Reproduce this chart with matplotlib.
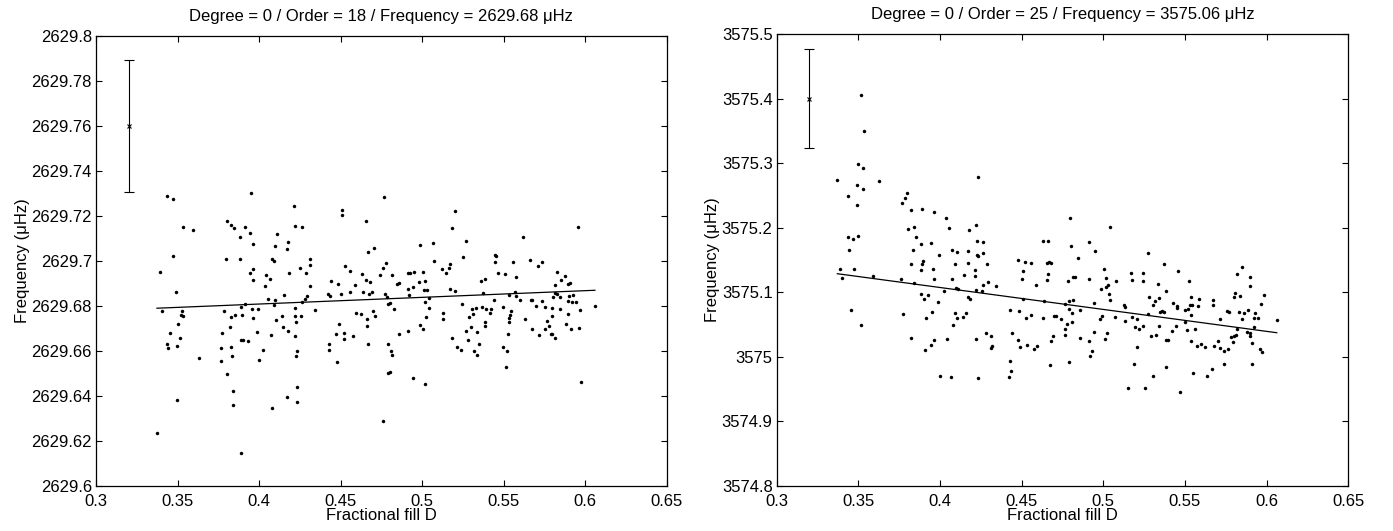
import matplotlib.pyplot as plt
import numpy as np
from matplotlib.ticker import FuncFormatter

plt.rcParams['font.family'] = ['Liberation Sans', 'DejaVu Sans']
plt.rcParams['font.size'] = 12

# ---- left panel: degree 0 / order 18 ----
left_fill = [
    0.3437, 0.3470, 0.3949, 0.3532, 0.3593, 0.3806, 0.3828, 0.3844, 0.3912, 0.3945,
    0.3883, 0.3963, 0.3472, 0.3797, 0.3883, 0.3393, 0.3965, 0.3942, 0.4045, 0.3963,
    0.4039, 0.3491, 0.4055, 0.3405, 0.3527, 0.3916, 0.3887, 0.3959, 0.3996, 0.3785,
    0.3519, 0.3532, 0.3826, 0.3853, 0.3895, 0.3963, 0.3501, 0.3820, 0.3456, 0.3987,
    0.3775, 0.3517, 0.3891, 0.3902, 0.3930, 0.3437, 0.3495, 0.3442, 0.3826, 0.3765,
    0.4026, 0.3632, 0.3767, 0.3836, 0.4002, 0.3806, 0.3842, 0.3497, 0.3838, 0.3374,
    0.3891,
    0.4764, 0.4214, 0.4507, 0.4507, 0.4656, 0.4219, 0.4261, 0.4110, 0.4178, 0.5069,
    0.4096, 0.4987, 0.4169, 0.4705, 0.4666, 0.4077, 0.4094, 0.4311, 0.4311, 0.4253,
    0.4529, 0.4781, 0.5073, 0.4186, 0.4286, 0.4556, 0.4629, 0.4760, 0.4067, 0.4740,
    0.4816, 0.4912, 0.4928, 0.4948, 0.5006, 0.5124, 0.4439, 0.4654, 0.4679, 0.4484,
    0.4591, 0.4315, 0.4846, 0.4856, 0.4981, 0.5020, 0.4914, 0.4942, 0.4155, 0.4423,
    0.4433, 0.4503, 0.4558, 0.4638, 0.4676, 0.4691, 0.4773, 0.4787, 0.4918, 0.5014,
    0.5032, 0.4292, 0.4284, 0.4100, 0.4261, 0.4090, 0.5042, 0.4805, 0.4791, 0.5018,
    0.4221, 0.4345, 0.4830, 0.5040, 0.4697, 0.4593, 0.4627, 0.4709, 0.4143, 0.4221,
    0.4259, 0.4106, 0.4225, 0.4660, 0.5024, 0.5130, 0.5130, 0.4488, 0.4660, 0.4145,
    0.4176, 0.4985, 0.5004, 0.4075, 0.4219, 0.4474, 0.4521, 0.4576, 0.4521, 0.4856,
    0.4912, 0.4427, 0.4670, 0.4789, 0.4427, 0.4233, 0.4225, 0.4809, 0.4816, 0.4476,
    0.4791, 0.4803, 0.4944, 0.5016, 0.4231, 0.4169, 0.4231, 0.4077, 0.4760,
    0.5202, 0.5185, 0.5956, 0.5271, 0.5617, 0.5253, 0.5447, 0.5451, 0.5447, 0.5555,
    0.5664, 0.5733, 0.5709, 0.5171, 0.5163, 0.5149, 0.5465, 0.5508, 0.5578, 0.5827,
    0.5878, 0.5854, 0.5361, 0.5384, 0.5895, 0.5905, 0.5817, 0.5171, 0.5202, 0.5371,
    0.5535, 0.5568, 0.5578, 0.5817, 0.5829, 0.5805, 0.5844, 0.5903, 0.5928, 0.5243,
    0.5441, 0.5598, 0.5668, 0.5674, 0.5737, 0.5895, 0.5919, 0.5944, 0.6060, 0.5304,
    0.5333, 0.5367, 0.5392, 0.5425, 0.5496, 0.5414, 0.5312, 0.5543, 0.5537, 0.5696,
    0.5754, 0.5799, 0.5848, 0.5966, 0.5893, 0.5288, 0.5533, 0.5535, 0.5384, 0.5384,
    0.5300, 0.5629, 0.5795, 0.5768, 0.5776, 0.5756, 0.5883, 0.5960, 0.5915, 0.5674,
    0.5269, 0.5339, 0.5529, 0.5715, 0.5789, 0.5797, 0.5813, 0.5185, 0.5279, 0.5347,
    0.5214, 0.5237, 0.5494, 0.5320, 0.5335, 0.5521, 0.5515, 0.5977,
]
left_freq = [
    2629.7290, 2629.7274, 2629.7301, 2629.7150, 2629.7138, 2629.7178, 2629.7160, 2629.7145, 2629.7151, 2629.7126,
    2629.7108, 2629.7074, 2629.7021, 2629.7010, 2629.7007, 2629.6951, 2629.6964, 2629.6947, 2629.6939, 2629.6917,
    2629.6889, 2629.6864, 2629.6833, 2629.6778, 2629.6779, 2629.6810, 2629.6797, 2629.6785, 2629.6787, 2629.6776,
    2629.6760, 2629.6754, 2629.6753, 2629.6760, 2629.6760, 2629.6745, 2629.6720, 2629.6705, 2629.6682, 2629.6683,
    2629.6679, 2629.6656, 2629.6649, 2629.6650, 2629.6643, 2629.6631, 2629.6622, 2629.6612, 2629.6618, 2629.6612,
    2629.6604, 2629.6569, 2629.6557, 2629.6576, 2629.6561, 2629.6496, 2629.6421, 2629.6381, 2629.6361, 2629.6237,
    2629.6145,
    2629.7283, 2629.7243, 2629.7227, 2629.7206, 2629.7179, 2629.7157, 2629.7153, 2629.7119, 2629.7086, 2629.7081,
    2629.7068, 2629.7071, 2629.7052, 2629.7059, 2629.7041, 2629.7007, 2629.7001, 2629.7010, 2629.6981, 2629.6967,
    2629.6979, 2629.6990, 2629.7000, 2629.6948, 2629.6945, 2629.6954, 2629.6944, 2629.6970, 2629.6919, 2629.6938,
    2629.6936, 2629.6945, 2629.6945, 2629.6953, 2629.6950, 2629.6963, 2629.6910, 2629.6914, 2629.6905, 2629.6896,
    2629.6893, 2629.6887, 2629.6898, 2629.6901, 2629.6905, 2629.6910, 2629.6877, 2629.6883, 2629.6849, 2629.6853,
    2629.6846, 2629.6855, 2629.6861, 2629.6864, 2629.6852, 2629.6861, 2629.6852, 2629.6840, 2629.6847, 2629.6871,
    2629.6873, 2629.6844, 2629.6831, 2629.6828, 2629.6816, 2629.6806, 2629.6834, 2629.6813, 2629.6807, 2629.6816,
    2629.6790, 2629.6782, 2629.6787, 2629.6791, 2629.6778, 2629.6767, 2629.6763, 2629.6757, 2629.6757, 2629.6754,
    2629.6756, 2629.6736, 2629.6730, 2629.6742, 2629.6750, 2629.6770, 2629.6742, 2629.6721, 2629.6713, 2629.6705,
    2629.6690, 2629.6717, 2629.6696, 2629.6673, 2629.6665, 2629.6676, 2629.6679, 2629.6668, 2629.6653, 2629.6674,
    2629.6687, 2629.6631, 2629.6630, 2629.6633, 2629.6603, 2629.6601, 2629.6576, 2629.6599, 2629.6584, 2629.6550,
    2629.6501, 2629.6505, 2629.6480, 2629.6453, 2629.6439, 2629.6394, 2629.6373, 2629.6345, 2629.6290,
    2629.7224, 2629.7147, 2629.7150, 2629.7087, 2629.7105, 2629.7016, 2629.7027, 2629.7024, 2629.6997, 2629.6996,
    2629.7004, 2629.6994, 2629.6979, 2629.6985, 2629.6967, 2629.6945, 2629.6948, 2629.6944, 2629.6929, 2629.6950,
    2629.6932, 2629.6917, 2629.6911, 2629.6920, 2629.6896, 2629.6901, 2629.6892, 2629.6874, 2629.6865, 2629.6856,
    2629.6849, 2629.6861, 2629.6846, 2629.6858, 2629.6852, 2629.6839, 2629.6841, 2629.6843, 2629.6849, 2629.6807,
    2629.6828, 2629.6828, 2629.6827, 2629.6825, 2629.6824, 2629.6821, 2629.6818, 2629.6819, 2629.6801, 2629.6785,
    2629.6791, 2629.6794, 2629.6785, 2629.6787, 2629.6797, 2629.6770, 2629.6764, 2629.6779, 2629.6761, 2629.6801,
    2629.6796, 2629.6793, 2629.6787, 2629.6784, 2629.6766, 2629.6750, 2629.6745, 2629.6727, 2629.6730, 2629.6713,
    2629.6705, 2629.6741, 2629.6756, 2629.6733, 2629.6710, 2629.6699, 2629.6721, 2629.6701, 2629.6696, 2629.6699,
    2629.6690, 2629.6686, 2629.6674, 2629.6673, 2629.6677, 2629.6677, 2629.6656, 2629.6656, 2629.6650, 2629.6631,
    2629.6619, 2629.6604, 2629.6618, 2629.6599, 2629.6582, 2629.6599, 2629.6527, 2629.6461,
]
left_fit = [0.0297, 2629.669]          # slope, intercept of the drawn trend line
left_err = [0.32, 2629.76, 0.0295]     # x, y, half-height of the error bar
left_title = 'Degree = 0 / Order = 18 / Frequency = 2629.68 \u03bcHz'
left_yticks = [2629.6, 2629.62, 2629.64, 2629.66, 2629.68, 2629.7,
               2629.72, 2629.74, 2629.76, 2629.78, 2629.8]

# ---- right panel: degree 0 / order 25 ----
right_fill = [
    0.3514, 0.3533, 0.3498, 0.3526, 0.3371, 0.3628, 0.3492, 0.3528, 0.3437, 0.3490,
    0.3796, 0.3784, 0.3765, 0.3824, 0.3892, 0.3963, 0.4039, 0.4053, 0.3804, 0.3841,
    0.3851, 0.3437, 0.3469, 0.3496, 0.3441, 0.3882, 0.3945, 0.3835, 0.3996, 0.4073,
    0.4102, 0.3896, 0.3824, 0.3892, 0.3884, 0.3959, 0.4090, 0.3390, 0.3471, 0.3402,
    0.3592, 0.3761, 0.3963, 0.4076, 0.4145, 0.3839, 0.4024, 0.4096, 0.4108, 0.3886,
    0.3929, 0.3902, 0.3988, 0.3453, 0.3773, 0.3951, 0.4092, 0.4104, 0.4143, 0.3912,
    0.3518, 0.4078, 0.3820, 0.3963, 0.4043, 0.3943, 0.3910, 0.4002, 0.4067,
    0.4231, 0.4794, 0.4221, 0.4176, 0.5043, 0.4225, 0.4261, 0.4629, 0.4661, 0.4804,
    0.4915, 0.4169, 0.4227, 0.4235, 0.4261, 0.4949, 0.4845, 0.4476, 0.4521, 0.4559,
    0.4655, 0.4668, 0.4682, 0.4171, 0.4286, 0.4214, 0.4216, 0.4508, 0.4659, 0.5004,
    0.5168, 0.4504, 0.4655, 0.4784, 0.4817, 0.4829, 0.4915, 0.5019, 0.5027, 0.5019,
    0.5076, 0.5176, 0.4292, 0.4263, 0.4343, 0.4590, 0.4986, 0.5035, 0.5043, 0.4218,
    0.4255, 0.4174, 0.4184, 0.4508, 0.4637, 0.4790, 0.4817, 0.4768, 0.4945, 0.5125,
    0.5133, 0.4157, 0.4427, 0.4484, 0.4788, 0.4857, 0.4810, 0.4525, 0.4559, 0.4631,
    0.4698, 0.4708, 0.4741, 0.4776, 0.4806, 0.4990, 0.4982, 0.5074, 0.5133, 0.5174,
    0.5206, 0.5192, 0.5217, 0.4763, 0.4763, 0.4221, 0.4282, 0.4312, 0.4439, 0.4692,
    0.4680, 0.4857, 0.4943, 0.5021, 0.5008, 0.4316, 0.4312, 0.4476, 0.4490, 0.4531,
    0.4592, 0.4578, 0.4912, 0.4929, 0.4919, 0.5204, 0.4427, 0.4672, 0.4792, 0.5188,
    0.4433, 0.4423, 0.4231, 0.5149,
    0.5274, 0.5374, 0.5455, 0.5243, 0.5243, 0.5523, 0.5335, 0.5384, 0.5851, 0.5821,
    0.5896, 0.5898, 0.5804, 0.5798, 0.5835, 0.5982, 0.5282, 0.5315, 0.5339, 0.5302,
    0.5537, 0.5584, 0.5429, 0.5449, 0.5453, 0.5500, 0.5521, 0.5531, 0.5543, 0.5582,
    0.5672, 0.5670, 0.5349, 0.5361, 0.5370, 0.5274, 0.5537, 0.5760, 0.5770, 0.5831,
    0.5860, 0.5886, 0.5931, 0.5964, 0.5921, 0.5947, 0.5847, 0.5717, 0.6062, 0.5241,
    0.5341, 0.5445, 0.5498, 0.5511, 0.5560, 0.5419, 0.5819, 0.5925, 0.5882, 0.5898,
    0.5896, 0.5292, 0.5323, 0.5384, 0.5394, 0.5780, 0.5798, 0.5813, 0.5792, 0.5537,
    0.5702, 0.5572, 0.5600, 0.5621, 0.5678, 0.5713, 0.5741, 0.5762, 0.5909, 0.5960,
    0.5972, 0.5737, 0.5909, 0.5386, 0.5547, 0.5668, 0.5635, 0.5304, 0.5255, 0.5470,
]
right_freq = [
    3575.4055, 3575.3502, 3575.2980, 3575.2923, 3575.2732, 3575.2717, 3575.2660, 3575.2593, 3575.2495, 3575.2345,
    3575.2541, 3575.2464, 3575.2376, 3575.2267, 3575.2288, 3575.2242, 3575.2154, 3575.1999, 3575.1973, 3575.2014,
    3575.1849, 3575.1859, 3575.1828, 3575.1864, 3575.1648, 3575.1741, 3575.1756, 3575.1648, 3575.1570, 3575.1648,
    3575.1617, 3575.1482, 3575.1436, 3575.1431, 3575.1338, 3575.1358, 3575.1436, 3575.1364, 3575.1364, 3575.1219,
    3575.1255, 3575.1208, 3575.1198, 3575.1208, 3575.1271, 3575.1147, 3575.1017, 3575.1069, 3575.1043, 3575.0966,
    3575.0950, 3575.0888, 3575.0852, 3575.0718, 3575.0656, 3575.0697, 3575.0682, 3575.0599, 3575.0615, 3575.0599,
    3575.0485, 3575.0485, 3575.0294, 3575.0253, 3575.0268, 3575.0175, 3575.0098, 3574.9700, 3574.9685,
    3575.2784, 3575.2149, 3575.2035, 3575.1963, 3575.2014, 3575.1787, 3575.1771, 3575.1797, 3575.1797, 3575.1715,
    3575.1771, 3575.1642, 3575.1580, 3575.1560, 3575.1606, 3575.1642, 3575.1529, 3575.1493, 3575.1462, 3575.1446,
    3575.1446, 3575.1467, 3575.1446, 3575.1456, 3575.1431, 3575.1343, 3575.1245, 3575.1322, 3575.1281, 3575.1353,
    3575.1291, 3575.1198, 3575.1183, 3575.1167, 3575.1240, 3575.1234, 3575.1198, 3575.1214, 3575.1105, 3575.1085,
    3575.1167, 3575.1188, 3575.1152, 3575.1110, 3575.1100, 3575.1110, 3575.1043, 3575.0971, 3575.0883, 3575.1033,
    3575.1012, 3575.0919, 3575.0888, 3575.0893, 3575.0857, 3575.0857, 3575.0878, 3575.0811, 3575.0837, 3575.0800,
    3575.0775, 3575.0677, 3575.0718, 3575.0703, 3575.0744, 3575.0728, 3575.0682, 3575.0594, 3575.0640, 3575.0594,
    3575.0625, 3575.0635, 3575.0578, 3575.0511, 3575.0532, 3575.0625, 3575.0583, 3575.0614, 3575.0552, 3575.0620,
    3575.0578, 3575.0454, 3575.0434, 3575.0423, 3575.0341, 3575.0279, 3575.0366, 3575.0325, 3575.0361, 3575.0320,
    3575.0248, 3575.0294, 3575.0382, 3575.0361, 3575.0279, 3575.0160, 3575.0129, 3575.0253, 3575.0145, 3575.0181,
    3575.0170, 3575.0119, 3575.0237, 3575.0088, 3575.0005, 3575.0145, 3574.9928, 3574.9866, 3574.9912, 3574.9881,
    3574.9783, 3574.9685, 3574.9664, 3574.9509,
    3575.1611, 3575.1431, 3575.1322, 3575.1291, 3575.1172, 3575.1172, 3575.1126, 3575.1023, 3575.1389, 3575.1276,
    3575.1240, 3575.1095, 3575.0981, 3575.0919, 3575.0945, 3575.0950, 3575.0924, 3575.0862, 3575.0904, 3575.0800,
    3575.0919, 3575.0899, 3575.0826, 3575.0785, 3575.0759, 3575.0718, 3575.0733, 3575.0795, 3575.0795, 3575.0785,
    3575.0873, 3575.0795, 3575.0697, 3575.0713, 3575.0692, 3575.0661, 3575.0640, 3575.0713, 3575.0687, 3575.0687,
    3575.0671, 3575.0723, 3575.0682, 3575.0811, 3575.0604, 3575.0594, 3575.0589, 3575.0589, 3575.0563, 3575.0480,
    3575.0475, 3575.0470, 3575.0532, 3575.0418, 3575.0423, 3575.0397, 3575.0434, 3575.0465, 3575.0382, 3575.0361,
    3575.0315, 3575.0320, 3575.0330, 3575.0253, 3575.0263, 3575.0305, 3575.0315, 3575.0330, 3575.0227, 3575.0248,
    3575.0248, 3575.0165, 3575.0191, 3575.0150, 3575.0165, 3575.0129, 3575.0088, 3575.0114, 3575.0206, 3575.0114,
    3575.0072, 3574.9891, 3574.9891, 3574.9835, 3574.9752, 3574.9804, 3574.9700, 3574.9700, 3574.9514, 3574.9447,
]
right_fit = [-0.3399, 3575.2431]
right_err = [0.32, 3575.40, 0.0765]
right_title = 'Degree = 0 / Order = 25 / Frequency = 3575.06 \u03bcHz'
right_yticks = [3574.8, 3574.9, 3575.0, 3575.1, 3575.2, 3575.3, 3575.4, 3575.5]

xticks = [0.3, 0.35, 0.4, 0.45, 0.5, 0.55, 0.6, 0.65]


def fmt_g(v, pos):
    return '%g' % round(v, 5)


def draw_panel(ax, fill, freq, fit, err, title, yticks):
    ax.plot(fill, freq, 'o', color='k', ms=2.5, mec='none')
    xs = np.array([min(fill), max(fill)])
    ax.plot(xs, np.polyval(fit, xs), '-', color='k', lw=0.9)
    ax.errorbar(err[0], err[1], yerr=err[2], fmt='x', color='k', ms=3.5,
                mew=0.8, elinewidth=0.8, capsize=3.5, capthick=0.8)
    ax.set_xlim(xticks[0], xticks[-1])
    ax.set_ylim(yticks[0], yticks[-1])
    ax.set_xticks(xticks)
    ax.set_yticks(yticks)
    ax.xaxis.set_major_formatter(FuncFormatter(fmt_g))
    ax.yaxis.set_major_formatter(FuncFormatter(fmt_g))
    ax.tick_params(direction='in', top=True, right=True, length=4,
                   width=0.8, labelsize=12)
    ax.tick_params(axis='x', pad=6)
    ax.tick_params(axis='y', pad=3)
    for sp in ax.spines.values():
        sp.set_linewidth(0.9)
    ax.set_title(title, fontsize=12, pad=11)
    ax.set_xlabel('Fractional fill D', fontsize=12, labelpad=-1)
    ax.set_ylabel('Frequency (\u03bcHz)', fontsize=12, labelpad=1)


fig = plt.figure(figsize=(13.93, 5.31), dpi=100)
ax1 = fig.add_axes([0.0689, 0.0847, 0.4097, 0.8475])
ax2 = fig.add_axes([0.5576, 0.0853, 0.4103, 0.8507])

draw_panel(ax1, left_fill, left_freq, left_fit, left_err, left_title, left_yticks)
draw_panel(ax2, right_fill, right_freq, right_fit, right_err, right_title, right_yticks)

fig.savefig('out.png', dpi=100)
